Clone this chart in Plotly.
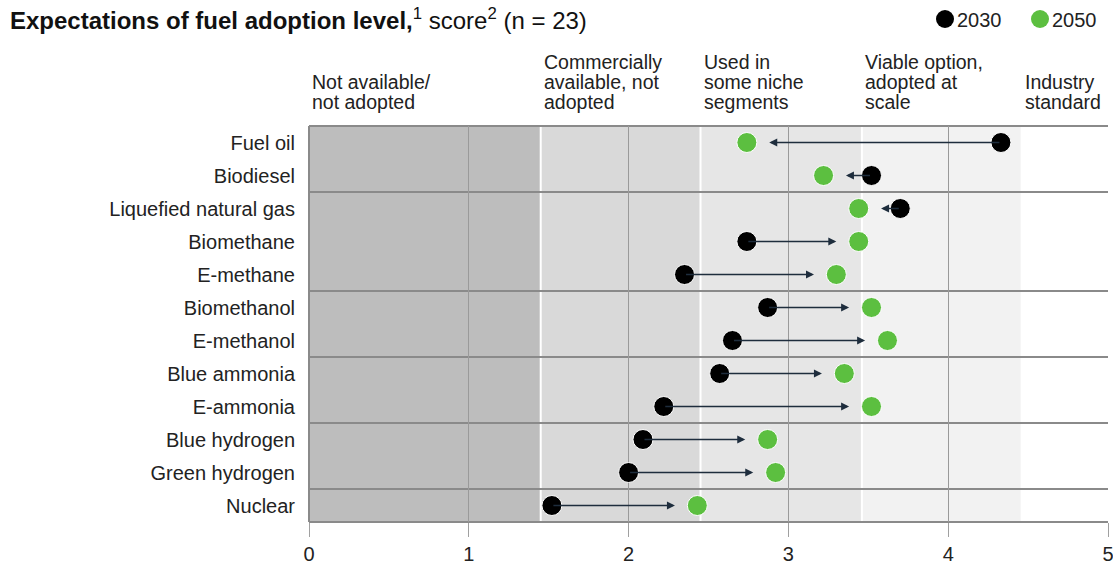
import plotly.graph_objects as go

categories = ["Fuel oil", "Biodiesel", "Liquefied natural gas", "Biomethane", "E-methane",
              "Biomethanol", "E-methanol", "Blue ammonia", "E-ammonia", "Blue hydrogen",
              "Green hydrogen", "Nuclear"]
score_2030 = [4.33, 3.52, 3.70, 2.74, 2.35, 2.87, 2.65, 2.57, 2.22, 2.09, 2.00, 1.52]
score_2050 = [2.74, 3.22, 3.44, 3.44, 3.30, 3.52, 3.62, 3.35, 3.52, 2.87, 2.92, 2.43]
group_breaks = [1.5, 4.5, 6.5, 8.5, 10.5]  # separators between fuel groups
band_edges = [0, 1.45, 2.45, 3.46, 4.46, 5]
band_colors = ["#BDBDBD", "#D9D9D9", "#E6E6E6", "#F2F2F2", "#FFFFFF"]
band_labels = [["Not available/", "not adopted"],
               ["Commercially", "available, not", "adopted"],
               ["Used in", "some niche", "segments"],
               ["Viable option,", "adopted at", "scale"],
               ["Industry", "standard"]]
legend_years = ["2030", "2050"]

FONT = "Liberation Sans, Arial, sans-serif"
GREEN = "#5CBF40"
ARROW = "#1E2D3D"
TXT = "#222222"

W, H = 1113, 569
ML, MR, MT, MB = 309, 5, 126, 47
PW, PH = W - ML - MR, H - MT - MB


def px_x(px):
    return (px - ML) / PW


def px_y(py):
    return (H - MB - py) / PH


fig = go.Figure()

shapes = []
for i in range(len(band_colors)):
    shapes.append(dict(type="rect", xref="x", yref="paper", x0=band_edges[i], x1=band_edges[i + 1],
                       y0=0, y1=1, fillcolor=band_colors[i], line_width=0, layer="below"))
for e in band_edges[1:-1]:
    shapes.append(dict(type="line", xref="x", yref="paper", x0=e, x1=e, y0=0, y1=1,
                       line=dict(color="white", width=2), layer="below"))
for b in group_breaks:
    shapes.append(dict(type="line", xref="paper", yref="y", x0=0, x1=1, y0=b, y1=b,
                       line=dict(color="#8A8A8A", width=2), layer="between"))
for yy in [0, 1]:
    shapes.append(dict(type="line", xref="paper", yref="paper", x0=0, x1=1, y0=yy, y1=yy,
                       line=dict(color="#8A8A8A", width=2), layer="between"))
shapes.append(dict(type="line", xref="paper", yref="paper", x0=0, x1=0, y0=0, y1=1,
                   line=dict(color="#8A8A8A", width=2), layer="between"))

# legend (manual)
leg_colors = ["black", GREEN]
leg_px = [945, 1040]
annotations = []
for k, yr in enumerate(legend_years):
    shapes.append(dict(type="circle", xref="paper", yref="paper", xsizemode="pixel", ysizemode="pixel",
                       xanchor=px_x(leg_px[k]), yanchor=px_y(19), x0=-9, x1=9, y0=-9, y1=9,
                       fillcolor=leg_colors[k], line=dict(color=leg_colors[k], width=0), layer="above"))
    annotations.append(dict(x=px_x(leg_px[k] + 10), y=px_y(20), xref="paper", yref="paper", text=yr,
                            showarrow=False, xanchor="left", yanchor="middle",
                            font=dict(family=FONT, size=20, color=TXT)))

for i, c in enumerate(categories):
    a, b = score_2030[i], score_2050[i]
    sign = 1 if b > a else -1
    tip = b - sign * 0.14
    annotations.append(dict(x=tip, y=c, ax=a, ay=c, xref="x", yref="y", axref="x", ayref="y",
                            showarrow=True, arrowhead=2, arrowsize=1, arrowwidth=1.6,
                            arrowcolor=ARROW, standoff=0, startstandoff=0, text=""))

for i, lines in enumerate(band_labels):
    n = len(lines)
    for j, ln in enumerate(lines):
        py = 102 - 20 * (n - 1 - j)
        annotations.append(dict(x=band_edges[i], xshift=1, y=px_y(py), xref="x", yref="paper", text=ln,
                                showarrow=False, xanchor="left", yanchor="middle", align="left",
                                font=dict(family=FONT, size=19.5, color=TXT)))

annotations.append(dict(x=px_x(8), y=px_y(19), xref="paper", yref="paper",
                        text="<b>Expectations of fuel adoption level,</b><sup>1</sup> score<sup>2</sup> (n = 23)",
                        showarrow=False, xanchor="left", yanchor="middle",
                        font=dict(family=FONT, size=24, color="#111111")))

fig.add_trace(go.Scatter(x=score_2030, y=categories, mode="markers", name="2030", showlegend=False,
                         marker=dict(color="black", size=20, line=dict(color="white", width=1)),
                         cliponaxis=False))
fig.add_trace(go.Scatter(x=score_2050, y=categories, mode="markers", name="2050", showlegend=False,
                         marker=dict(color=GREEN, size=20, line=dict(color="white", width=1)),
                         cliponaxis=False))

fig.update_layout(
    width=W, height=H,
    margin=dict(l=ML, r=MR, t=MT, b=MB, autoexpand=False),
    plot_bgcolor="white", paper_bgcolor="white",
    font=dict(family=FONT, color=TXT),
    shapes=shapes,
    annotations=annotations,
    xaxis=dict(range=[0, 5], tickvals=[0, 1, 2, 3, 4, 5], showgrid=True, gridcolor="#9A9A9A",
               gridwidth=1, zeroline=False, ticks="outside", ticklen=14, tickcolor="#A0A0A0",
               ticklabeloverflow="allow", automargin=False,
               tickfont=dict(family=FONT, size=20, color=TXT), showline=False, fixedrange=True),
    yaxis=dict(categoryorder="array", categoryarray=categories, range=[11.5, -0.5],
               showgrid=False, zeroline=False, ticks="", ticklabelstandoff=13, automargin=False,
               tickfont=dict(family=FONT, size=20, color=TXT), fixedrange=True),
)

fig.write_html("out.html", config={"displayModeBar": False},
               post_script="document.body.style.margin='0';document.body.style.overflow='hidden';")
